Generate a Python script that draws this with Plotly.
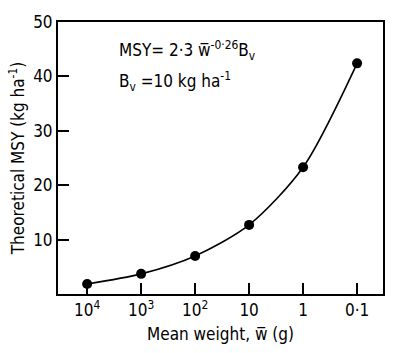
import plotly.graph_objects as go

weights = [1e4, 1e3, 1e2, 10, 1, 0.1]
msy = [1.85, 3.7, 7.0, 12.7, 23.3, 42.4]
x_tick_vals = [1e4, 1e3, 1e2, 10, 1, 0.1]
x_tick_text = ["10<sup>4</sup>", "10<sup>3</sup>", "10<sup>2</sup>", "10", "1", "0·1"]
y_tick_vals = [10, 20, 30, 40, 50]

FONT = "Liberation Sans Narrow, DejaVu Sans Condensed, Arial Narrow, sans-serif"

fig = go.Figure()
fig.add_trace(go.Scatter(
    x=weights, y=msy, mode="lines+markers",
    line=dict(color="black", width=1.6, shape="spline", smoothing=0.8),
    marker=dict(color="black", size=10),
    showlegend=False,
))

fig.update_layout(
    width=400, height=353,
    margin=dict(l=58, r=17, t=22, b=59),
    paper_bgcolor="white", plot_bgcolor="white",
    font=dict(family=FONT, size=17, color="black"),
    xaxis=dict(
        type="log", range=[4.54, -1.48],
        tickvals=x_tick_vals, ticktext=x_tick_text,
        ticks="inside", ticklen=11, tickwidth=1.5, tickcolor="black",
        showline=True, linecolor="black", linewidth=2, mirror=True,
        showgrid=False, zeroline=False,
        title=dict(text="Mean weight, w\u0305 (g)", standoff=9, font=dict(size=17)),
    ),
    yaxis=dict(
        range=[0, 50],
        tickvals=y_tick_vals,
        ticks="inside", ticklen=11, tickwidth=1.5, tickcolor="black",
        showline=True, linecolor="black", linewidth=2, mirror=True,
        showgrid=False, zeroline=False,
        title=dict(text="Theoretical MSY (kg ha<sup>-1</sup>)", standoff=4, font=dict(size=17)),
    ),
    annotations=[
        dict(xref="paper", yref="paper", x=0.18, y=0.897, xanchor="left", yanchor="middle",
             text="MSY= 2·3 w\u0305<sup>-0·26</sup>B<sub>v</sub>", showarrow=False,
             font=dict(family=FONT, size=17)),
        dict(xref="paper", yref="paper", x=0.18, y=0.783, xanchor="left", yanchor="middle",
             text="B<sub>v</sub> =10 kg ha<sup>-1</sup>", showarrow=False,
             font=dict(family=FONT, size=17)),
    ],
)

fig.write_html("out.html")
